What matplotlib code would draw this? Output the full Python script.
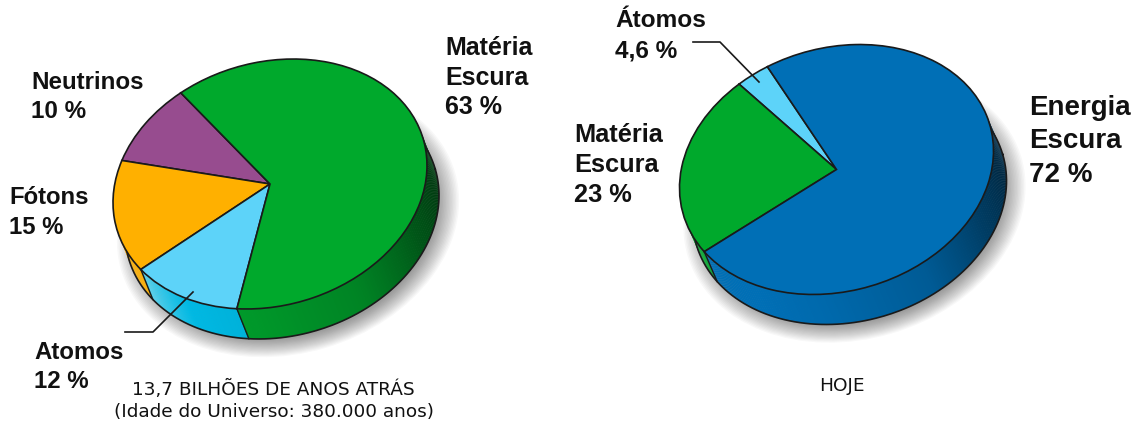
"""Composicao do universo em duas pizzas com aparencia 3D."""

import matplotlib
matplotlib.use("Agg")
import matplotlib.pyplot as plt
import numpy as np
from matplotlib.patches import Circle
from matplotlib.transforms import Affine2D

ROTULOS_ANTES = ["Neutrinos", "Fótons", "Atomos", "Matéria Escura"]
VALORES_ANTES = [10, 15, 12, 63]
PERCENTUAIS_ANTES = ["10 %", "15 %", "12 %", "63 %"]
CORES_ANTES = ["#974C8F", "#FFB000", "#5DD3F9", "#00A92C"]
PAREDE_ANTES = ["#974C8F", "#FFB000", "#00B9E3", "#00A02C"]

ROTULOS_HOJE = ["Átomos", "Matéria Escura", "Energia Escura"]
# tamanho das fatias como aparece no desenho, o texto diz 4,6 / 23 / 72
VALORES_HOJE = [3.4, 23.4, 73.2]
PERCENTUAIS_HOJE = ["4,6 %", "23 %", "72 %"]
CORES_HOJE = ["#5DD3F9", "#00A92C", "#006FB6"]
PAREDE_HOJE = ["#5DD3F9", "#00A92C", "#006FB6"]

LEGENDA_ANTES = ["13,7 BILHÕES DE ANOS ATRÁS", "(Idade do Universo: 380.000 anos)"]
LEGENDA_HOJE = "HOJE"

TINTA = "#1a1a1a"
EIXO_MAIOR = 159.7
EIXO_MENOR = 121.5
GIRO = 16.4


def transformacao(cx, cy):
    return (
        Affine2D()
        .scale(EIXO_MAIOR, EIXO_MENOR)
        .rotate_deg(GIRO)
        .scale(1, -1)
        .translate(cx, cy)
    )


def sombra_parede(t):
    # fator de luz da parede lateral, em funcao do angulo
    t = t % 360
    return np.interp(
        t,
        [0, 30, 60, 150, 202, 203, 225, 250, 290, 320, 345, 360],
        [0.42, 0.62, 0.8, 1.0, 1.0, 1.35, 1.0, 0.95, 0.82, 0.55, 0.38, 0.42],
    )


def cor_parede(cor, fator):
    rgb = np.array(matplotlib.colors.to_rgb(cor))
    if fator > 1:
        return tuple(rgb + (1 - rgb) * (fator - 1))
    return tuple(rgb * fator)


def desenhar_pizza(ax, cx, cy, valores, cores, paredes, inicio, dx=12, dy=30, luz=1.35):
    total = sum(valores)
    limites = inicio + np.cumsum([0] + valores) * 360 / total
    topo = transformacao(cx, cy)
    base = transformacao(cx + dx, cy + dy)

    # sombra difusa embaixo da pizza
    for raio in np.linspace(1.09, 0.95, 16):
        ax.add_patch(
            Circle(
                (0, 0),
                raio,
                facecolor="black",
                edgecolor="none",
                alpha=0.028,
                transform=transformacao(cx + 18, cy + 37) + ax.transData,
                zorder=1,
            )
        )

    # parede lateral em fatias finas
    for t in np.arange(inicio, inicio + 360, 1.0):
        meio = t + 0.5
        indice = np.searchsorted(limites, meio) - 1
        a = np.deg2rad([t, t + 1.3])
        unit = np.column_stack([np.cos(a), np.sin(a)])
        p_topo = topo.transform(unit)
        p_base = base.transform(unit)[::-1]
        poli = np.vstack([p_topo, p_base])
        ax.fill(
            poli[:, 0],
            poli[:, 1],
            color=cor_parede(paredes[indice], min(sombra_parede(meio), luz)),
            linewidth=0,
            zorder=2,
        )

    ang = np.deg2rad(np.linspace(0, 360, 361))
    borda = base.transform(np.column_stack([np.cos(ang), np.sin(ang)]))
    ax.plot(borda[:, 0], borda[:, 1], color=TINTA, lw=1.2, zorder=3)

    # divisoes das fatias na parede
    for limite in limites[:-1]:
        a = np.deg2rad(limite)
        unit = [[np.cos(a), np.sin(a)]]
        p0 = topo.transform(unit)[0]
        p1 = base.transform(unit)[0]
        ax.plot([p0[0], p1[0]], [p0[1], p1[1]], color=TINTA, lw=1.0, zorder=3)

    fatias, _ = ax.pie(
        valores,
        colors=cores,
        startangle=inicio,
        radius=1,
        center=(0, 0),
        wedgeprops={"edgecolor": TINTA, "linewidth": 1.2},
    )
    for fatia in fatias:
        fatia.set_transform(topo + ax.transData)
        fatia.set_zorder(4)


def escrever_rotulo(ax, x, y, linhas, tamanho, passo):
    for i, linha in enumerate(linhas):
        ax.text(
            x,
            y + i * passo,
            linha,
            fontsize=tamanho,
            fontweight="bold",
            family="Liberation Sans",
            color="#111111",
            va="baseline",
            ha="left",
            zorder=6,
        )


def main():
    fig = plt.figure(figsize=(11.4, 4.25), dpi=100)
    ax = fig.add_axes([0, 0, 1, 1])

    desenhar_pizza(ax, 270, 184, VALORES_ANTES, CORES_ANTES, PAREDE_ANTES, 112)
    desenhar_pizza(
        ax, 836.5, 169.5, VALORES_HOJE, CORES_HOJE, PAREDE_HOJE, 103.5, dx=13, dy=30, luz=1.0
    )

    ax.set_aspect("auto")
    ax.set_xlim(0, 1140)
    ax.set_ylim(425, 0)
    ax.axis("off")

    ax.plot([125, 153, 193], [332, 332, 292], color=TINTA, lw=1.2, zorder=5)
    ax.plot([693, 720, 759], [42, 42, 82], color=TINTA, lw=1.2, zorder=5)

    escrever_rotulo(ax, 31, 89, [ROTULOS_ANTES[0], PERCENTUAIS_ANTES[0]], 17.4, 29)
    escrever_rotulo(ax, 9, 204, [ROTULOS_ANTES[1], PERCENTUAIS_ANTES[1]], 17.2, 30)
    escrever_rotulo(ax, 34, 359, [ROTULOS_ANTES[2], PERCENTUAIS_ANTES[2]], 17.3, 29)
    escrever_rotulo(
        ax, 445, 55, ROTULOS_ANTES[3].split() + [PERCENTUAIS_ANTES[3]], 18, 29.5
    )
    escrever_rotulo(ax, 615, 27, [ROTULOS_HOJE[0], PERCENTUAIS_HOJE[0]], 17.6, 30)
    escrever_rotulo(
        ax, 574, 142, ROTULOS_HOJE[1].split() + [PERCENTUAIS_HOJE[1]], 18.3, 30
    )
    escrever_rotulo(
        ax, 1029, 115, ROTULOS_HOJE[2].split() + [PERCENTUAIS_HOJE[2]], 20, 33.5
    )

    for y, linha in zip([395, 417], LEGENDA_ANTES):
        ax.text(273.5, y, linha, fontsize=13.3, ha="center", va="baseline", color="#111111")
    ax.text(842, 391, LEGENDA_HOJE, fontsize=13.3, ha="center", va="baseline", color="#111111")

    fig.savefig("out.png", dpi=100, facecolor="white")
    plt.close(fig)


if __name__ == "__main__":
    main()
